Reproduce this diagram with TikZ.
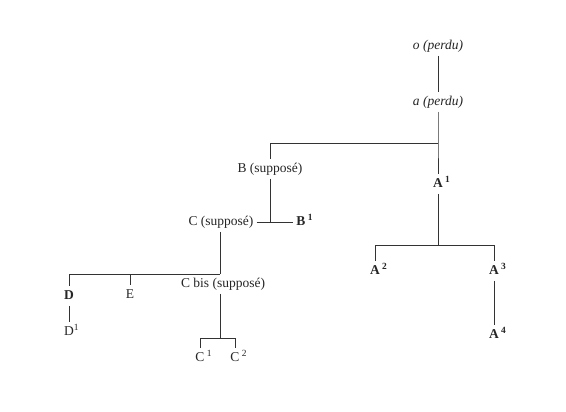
\documentclass[tikz,border=0pt]{standalone}
\usepackage{fontspec}
\setmainfont{Liberation Serif}
\begin{document}
\begin{tikzpicture}[x=1pt,y=-1pt,
  every node/.style={font=\fontsize{13.5}{15}\selectfont, text height=9pt, text depth=2.5pt, inner xsep=3pt, inner ysep=4pt, text=black!85},
  link/.style={draw=black!80, line width=0.8pt}]
\fill[white] (0,0) rectangle (566,412);
\useasboundingbox (0,0) rectangle (566,412);
% nodes
\node (o) at (438,46) {\textit{o (perdu)}};
\node (a) at (438,102) {\textit{a (perdu)}};
\node (B) at (270,169) {B (supposé)};
\node (A1) at (438,184) {\textbf{A}\rlap{\,\textsuperscript{\textbf{1}}}};
\node (C) at (221,222) {C (supposé)};
\node (B1) at (301,222) {\textbf{B}\rlap{\,\textsuperscript{\textbf{1}}}};
\node (A2) at (375,271) {\textbf{A}\rlap{\,\textsuperscript{\textbf{2}}}};
\node (A3) at (494,271) {\textbf{A}\rlap{\,\textsuperscript{\textbf{3}}}};
\node (A4) at (494,335) {\textbf{A}\rlap{\,\textsuperscript{\textbf{4}}}};
\node (D) at (69,296) {\textbf{D}};
\node (E) at (130,295) {E};
\node (Cbis) at (223,284) {C bis (supposé)};
\node (D1) at (69,332) {D\rlap{\textsuperscript{1}}};
\node (C1) at (200,358) {C\rlap{\,\textsuperscript{1}}};
\node (C2) at (235,358) {C\rlap{\,\textsuperscript{2}}};
% junctions
\coordinate (ja) at (438,143);
\coordinate (jA) at (438,245);
\coordinate (jB) at (270,222);
\coordinate (jC) at (220,274);
\coordinate (jCb) at (220,338);
% connectors
\draw[link] (o) -- (a);
\draw[link] (a) -- (ja) -- (A1);
\draw[link] (ja) -| (B);
\draw[link] (A1) -- (jA);
\draw[link] (jA) -| (A2);
\draw[link] (jA) -| (A3);
\draw[link] (A3) -- (A4);
\draw[link] (B) -- (jB);
\draw[link] (C) -- (B1);
\draw[link] (C.south -| jC) -- (jC);
\draw[link] (jC) -| (D);
\draw[link] (jC -| E) -- (E);
\draw[link] (D) -- (D1);
\draw[link] (Cbis.south -| jCb) -- (jCb);
\draw[link] (jCb) -| (C1);
\draw[link] (jCb) -| (C2);
\end{tikzpicture}
\end{document}
